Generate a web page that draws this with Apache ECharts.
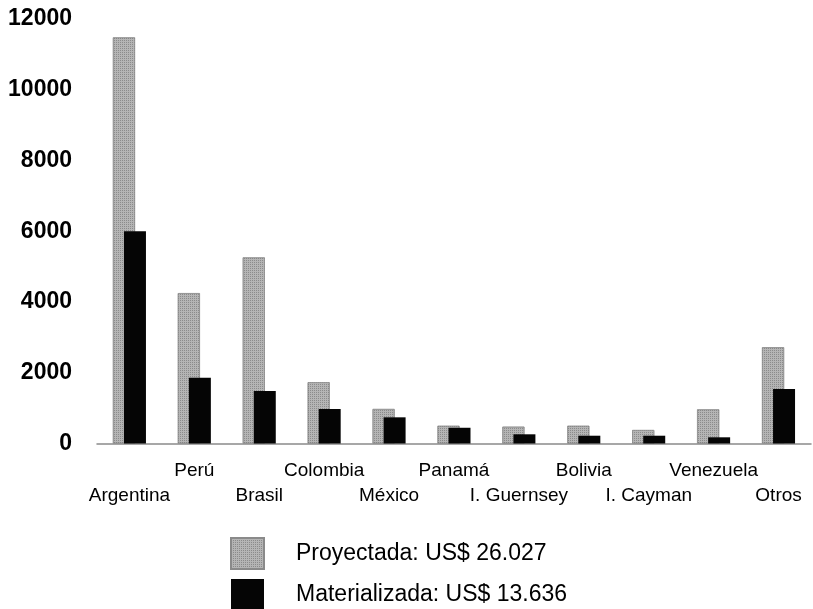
<!DOCTYPE html>
<html><head><meta charset="utf-8">
<script src="https://cdn.jsdelivr.net/npm/echarts@6/dist/echarts.min.js"></script>
<style>html,body{margin:0;padding:0;background:#fff}#c{width:813px;height:609px}</style>
</head><body><div id="c"></div>
<script>
const categories = ['Argentina','Perú','Brasil','Colombia','México','Panamá','I. Guernsey','Bolivia','I. Cayman','Venezuela','Otros'];
const proyectada = [11480, 4250, 5260, 1730, 975, 500, 475, 500, 380, 965, 2720];
const materializada = [6000, 1860, 1485, 975, 740, 445, 260, 220, 220, 175, 1540];
const yTicks = [0, 2000, 4000, 6000, 8000, 10000, 12000];
const legendNames = ['Proyectada: US$ 26.027', 'Materializada: US$ 13.636'];

const chart = echarts.init(document.getElementById('c'), null, {renderer:'canvas'});
chart.setOption({
  animation: false,
  backgroundColor: '#fff',
  grid: {left: 97, right: 2, top: 19, bottom: 165.5, containLabel: false},
  xAxis: {
    type: 'category', data: categories,
    axisTick: {show: false},
    axisLine: {show: true, lineStyle: {color: '#8a8a8a', width: 1.5}},
    axisLabel: {
      interval: 0, margin: 15, lineHeight: 25,
      fontFamily: 'Liberation Sans, Arial, sans-serif', fontSize: 19, color: '#000',
      formatter: (v, i) => (i % 2 === 0 ? '\n' + v : v)
    }
  },
  yAxis: {
    type: 'value', min: yTicks[0], max: yTicks[yTicks.length-1], interval: 2000,
    axisLine: {show: false}, axisTick: {show: false},
    splitLine: {show: false},
    axisLabel: {margin: 25, fontFamily: 'Liberation Sans, Arial, sans-serif', fontSize: 23, fontWeight: 'bold', color: '#000',
      formatter: v => String(v)}
  },
  legend: {
    orient: 'vertical', left: 230, top: 537, padding: 0,
    itemWidth: 33, itemHeight: 31, itemGap: 9,
    icon: 'rect',
    textStyle: {fontFamily: 'Liberation Sans, Arial, sans-serif', fontSize: 23, color: '#000', padding: [0,0,8,27]},
    data: legendNames
  },
  series: [
    {name: legendNames[0], type: 'bar', data: proyectada, barWidth: 22, barGap: '-50%',
     itemStyle: {color: '#b5b5b5', borderColor: '#8a8a8a', borderWidth: 0.6,
       decal: {symbol: 'rect', symbolSize: 1, color: 'rgba(60,60,60,0.35)', dashArrayX: [1, 1], dashArrayY: [1, 1], rotation: 0}}},
    {name: legendNames[1], type: 'bar', data: materializada, barWidth: 22,
     itemStyle: {color: '#050505'}}
  ]
});
</script></body></html>
